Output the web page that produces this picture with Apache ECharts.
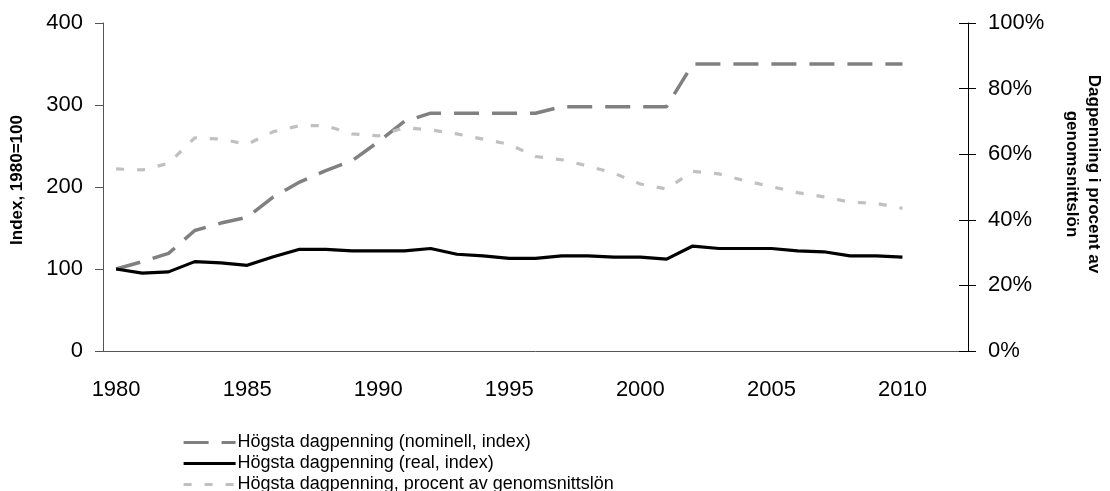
<!DOCTYPE html>
<html>
<head>
<meta charset="utf-8">
<script src="https://cdn.jsdelivr.net/npm/echarts@6/dist/echarts.min.js"></script>
<style>
  html, body { margin: 0; padding: 0; background: #fff; }
  #chart { width: 1110px; height: 491px; }
</style>
</head>
<body>
<div id="chart"></div>
<script>
// years on the category axis (the last two have no data)
const years = []
for (let y = 1980; y <= 2012; y++) years.push(String(y))

// 1980..2010
const nominalIndex = [100, 109, 119, 147, 156, 163, 188, 206, 220, 232, 255, 280, 290, 290, 290, 290, 290, 298, 298, 298, 298, 298, 350, 350, 350, 350, 350, 350, 350, 350, 350]
const realIndex = [100, 95, 96.5, 109, 107.5, 104.5, 115, 124, 124, 122, 122, 122, 125, 118, 116, 113, 113, 116, 116, 114.5, 114.5, 112, 128, 125, 125, 125, 122, 121, 116, 116, 114.5]
const pctOfAvgWage = [55.5, 55.2, 57.2, 65, 64.6, 63, 66.9, 68.7, 68.7, 66.2, 65.6, 68.1, 67.4, 66.2, 64.6, 63, 59.3, 58.3, 56.4, 54.2, 50.9, 49.4, 54.8, 54, 51.9, 50.1, 48.3, 47, 45.4, 45, 43.5]

const indexTicks = { min: 0, max: 400, interval: 100 }
const pctTicks = { min: 0, max: 100, interval: 20 }

const axisColor = '#555'
const font = 'Liberation Sans, Arial, sans-serif'

const chart = echarts.init(document.getElementById('chart'), null, { renderer: 'canvas' })

chart.setOption({
  backgroundColor: '#fff',
  animation: false,
  grid: { left: 103, right: 142, top: 23, bottom: 140 },
  xAxis: {
    type: 'category',
    data: years,
    boundaryGap: true,
    axisLine: { lineStyle: { color: axisColor } },
    axisTick: { interval: 4, length: 8, lineStyle: { color: axisColor } },
    axisLabel: { interval: 4, color: '#000', fontSize: 22, fontFamily: font, margin: 28 },
    splitLine: { show: false }
  },
  yAxis: [
    {
      type: 'value',
      position: 'left',
      ...indexTicks,
      axisLine: { show: true, lineStyle: { color: axisColor } },
      axisTick: { show: true, length: 8, lineStyle: { color: axisColor } },
      axisLabel: { color: '#000', fontSize: 22, fontFamily: font, margin: 20 },
      splitLine: { show: false }
    },
    {
      type: 'value',
      position: 'right',
      ...pctTicks,
      axisLine: { show: true, lineStyle: { color: '#000' } },
      axisTick: { show: true, length: 8, lineStyle: { color: '#000' } },
      axisLabel: { color: '#000', fontSize: 22, fontFamily: font, margin: 20, formatter: '{value}%' },
      splitLine: { show: false }
    },
    {
      // inner half of the crossing ticks on the right axis
      type: 'value',
      position: 'right',
      ...pctTicks,
      axisLine: { show: false },
      axisTick: { show: true, inside: true, length: 9, lineStyle: { color: '#000' } },
      axisLabel: { show: false },
      splitLine: { show: false }
    }
  ],
  legend: {
    orient: 'vertical',
    left: 177,
    top: 427,
    height: 90,
    itemWidth: 52,
    itemHeight: 14,
    itemGap: 0,
    itemStyle: { opacity: 0 },
    lineStyle: { width: 3.2 },
    textStyle: { color: '#000', fontSize: 18, fontFamily: font, lineHeight: 21, padding: [0, 0, 0, -3] },
    data: [
      'Högsta dagpenning (nominell, index)',
      'Högsta dagpenning (real, index)',
      'Högsta dagpenning, procent av genomsnittslön'
    ]
  },
  graphic: [
    {
      type: 'text',
      x: 17, y: 180,
      rotation: Math.PI / 2,
      style: {
        text: 'Index, 1980=100',
        font: 'bold 17px ' + font,
        fill: '#000',
        align: 'center',
        verticalAlign: 'middle'
      }
    },
    {
      type: 'text',
      x: 1083, y: 174,
      rotation: -Math.PI / 2,
      style: {
        text: 'Dagpenning i procent av\ngenomsnittslön',
        font: 'bold 17px ' + font,
        fill: '#000',
        align: 'center',
        verticalAlign: 'middle',
        lineHeight: 22
      }
    }
  ],
  series: [
    {
      name: 'Högsta dagpenning (nominell, index)',
      type: 'line',
      yAxisIndex: 0,
      data: nominalIndex,
      showSymbol: false,
      symbol: 'none',
      lineStyle: { color: '#808080', width: 3.5, type: [25, 13] },
      itemStyle: { color: '#808080' }
    },
    {
      name: 'Högsta dagpenning (real, index)',
      type: 'line',
      yAxisIndex: 0,
      data: realIndex,
      showSymbol: false,
      symbol: 'none',
      lineStyle: { color: '#000', width: 3.2 },
      itemStyle: { color: '#000' }
    },
    {
      name: 'Högsta dagpenning, procent av genomsnittslön',
      type: 'line',
      yAxisIndex: 1,
      data: pctOfAvgWage,
      showSymbol: false,
      symbol: 'none',
      lineStyle: { color: '#c0c0c0', width: 3.2, type: [8, 13] },
      itemStyle: { color: '#c0c0c0' }
    }
  ]
})
</script>
</body>
</html>
